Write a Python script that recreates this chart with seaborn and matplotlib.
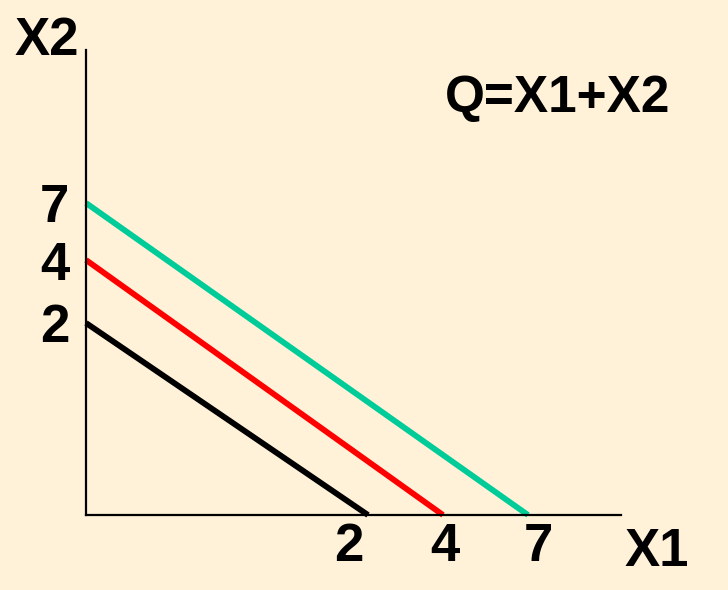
import numpy as np
import pandas as pd
import matplotlib
matplotlib.use("Agg")
import matplotlib.pyplot as plt
import matplotlib.transforms as mtransforms
import seaborn as sns

# ---- data ----
quantities = [2, 4, 7]                      # isoquant levels Q
line_colors = ["#000000", "#FF0000", "#00CC99"]
tick_labels = ["2", "4", "7"]
x_label = "X1"
y_label = "X2"
formula = "Q=X1+X2"

# build a table: each isoquant goes from (0, Q) to (Q, 0)
rows = []
for q in quantities:
    rows.append({"Q": q, "X1": 0, "X2": q, "order": 0})
    rows.append({"Q": q, "X1": q, "X2": 0, "order": 1})
df = pd.DataFrame(rows)

# ---- schematic (non-linear) axis scales ----
x_knots_val = np.array([0, 2, 4, 7, 20.0])
x_knots_pix = np.array([0, 282, 357, 442, 442 + 13 * 28.33])
y_knots_val = np.array([0, 2, 4, 7, 30.0])
y_knots_pix = np.array([0, 192, 255, 312, 312 + 23 * 19.0])

def fx(v): return np.interp(v, x_knots_val, x_knots_pix)
def ix(p): return np.interp(p, x_knots_pix, x_knots_val)
def fy(v): return np.interp(v, y_knots_val, y_knots_pix)
def iy(p): return np.interp(p, y_knots_pix, y_knots_val)

bg = "#FFF2D9"
sns.set_theme(style="white")
plt.rcParams["font.family"] = ["Liberation Sans", "DejaVu Sans"]
plt.rcParams["text.color"] = "black"

W, H = 728, 590
fig = plt.figure(figsize=(W / 100, H / 100), dpi=100, facecolor=bg)
ax = fig.add_axes([86 / W, (H - 515) / H, (621 - 86) / W, (515 - 50) / H])
ax.set_facecolor(bg)
ax.set_xscale("function", functions=(fx, ix))
ax.set_yscale("function", functions=(fy, iy))

sns.lineplot(data=df, x="X1", y="X2", hue="Q", units="Q", estimator=None,
             sort=False, palette=line_colors, linewidth=4.2, legend=False,
             ax=ax)
for l in ax.get_lines():
    l.set_solid_capstyle("butt")
    l.set_clip_on(False)

ax.set_xlim(0, float(ix(535)))
ax.set_ylim(0, float(iy(465)))

for s in ["top", "right"]:
    ax.spines[s].set_visible(False)
for s in ["left", "bottom"]:
    ax.spines[s].set_color("black")
    ax.spines[s].set_linewidth(1.6)
ax.grid(False)

ax.set_xticks(quantities)
ax.set_xticklabels(tick_labels)
ax.set_yticks(quantities)
ax.set_yticklabels(tick_labels)
ax.tick_params(axis="both", length=0, labelsize=38, colors="black",
               labelcolor="black")
ax.tick_params(axis="x", pad=5)
ax.tick_params(axis="y", pad=12)
for t in ax.get_xticklabels() + ax.get_yticklabels():
    t.set_fontweight("bold")

# small per-label nudges to match the reference layout
x_nudges = [-19, 2, 10]
for t, dx in zip(ax.get_xticklabels(), x_nudges):
    t.set_transform(t.get_transform() +
                    mtransforms.ScaledTranslation(dx / 100, 0, fig.dpi_scale_trans))

ax.set_xlabel("")
ax.set_ylabel("")
fig.text(657 / W, 1 - 552 / H, x_label, fontsize=38, fontweight="bold",
         ha="center", va="center", color="black")
fig.text(47 / W, 1 - 41 / H, y_label, fontsize=38, fontweight="bold",
         ha="center", va="center", color="black")
fig.text(558 / W, 1 - 99 / H, formula, fontsize=37, fontweight="bold",
         ha="center", va="center", color="black")

fig.savefig("out.png", dpi=100, facecolor=bg)
